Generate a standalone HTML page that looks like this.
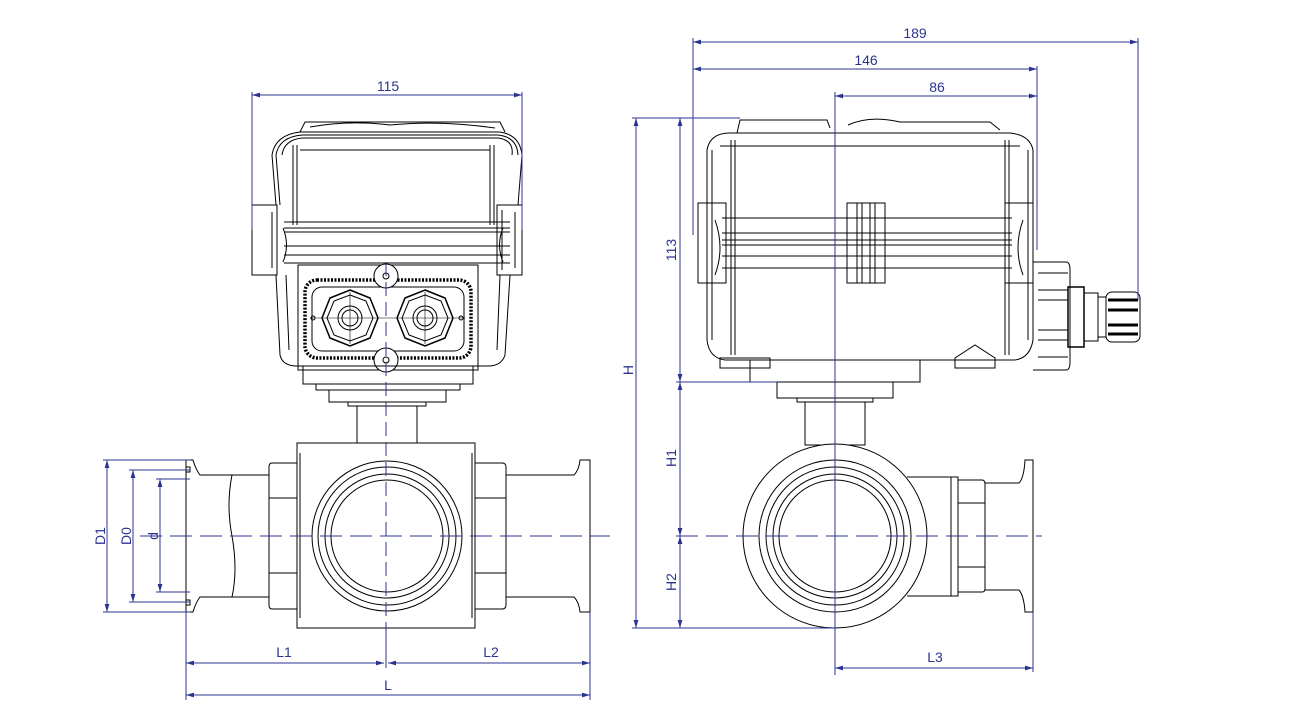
<!DOCTYPE html>
<html><head><meta charset="utf-8"><style>
html,body{margin:0;padding:0;background:#fff;}
svg{display:block;}
text{font-family:"Liberation Sans",sans-serif;font-size:14px;fill:#2b3590;}
</style></head><body>
<svg width="1295" height="727" viewBox="0 0 1295 727" xmlns="http://www.w3.org/2000/svg">
<defs>
<marker id="a" viewBox="0 0 10 6" refX="10" refY="3" markerWidth="8" markerHeight="5" orient="auto-start-reverse"><path d="M0,0L10,3L0,6z" fill="#2b3590"/></marker>
</defs>
<g fill="none" stroke="#000" stroke-width="1">
<!-- LEFT ACTUATOR -->
<path d="M300,132 L305,122 L500,122 L505,132"/>
<path d="M310,127 Q350,120 390,125 Q440,120 495,128"/>
<path d="M272,155 Q275,135 300,132 L500,132 Q520,135 522,155 L518,205"/>
<path d="M276,155 Q279,137 302,135 L498,135 Q517,137 518,155"/>
<path d="M282,155 Q284,140 302,138 L498,138 Q514,140 512,155"/>
<path d="M297,145 L297,225 M490,145 L490,225 M293,145 L293,225 M494,145 L494,225"/>
<path d="M300,150 L490,150"/>
<path d="M272,155 L276,205 M276,155 L280,205"/>
<rect x="252" y="205" width="25" height="70"/>
<rect x="497" y="205" width="25" height="70"/>
<path d="M277,210 L277,270 M272,212 L272,268 M502,210 L502,270 M515,212 L515,268"/>
<path d="M284,222 L510,222 M284,232 L510,232 M284,246 L510,246 M284,255 L510,255 M284,263 L510,263 M284,228 L510,228"/>
<path d="M283,228 Q290,245 283,262 M503,228 Q496,245 503,262"/>
<path d="M276,275 L280,355 Q282,365 295,366 L490,366 Q502,365 505,355 L510,275"/>
<path d="M286,275 L289,350 M500,275 L497,350"/>
<rect x="298" y="265" width="180" height="105"/>
<rect x="305" y="280" width="166" height="78" rx="12" stroke-width="3.5" stroke-dasharray="2,1.5"/>
<rect x="312" y="287" width="152" height="64" rx="10"/>
<circle cx="386" cy="276" r="12" fill="#fff"/><circle cx="386" cy="276" r="3"/>
<circle cx="386" cy="360" r="12" fill="#fff"/><circle cx="386" cy="360" r="3"/>
<polygon points="350,290 370,298 378,318 370,338 350,346 330,338 322,318 330,298" stroke-width="1.5"/>
<polygon points="350,295 366,301 373,318 366,335 350,341 334,335 327,318 334,301"/>
<circle cx="350" cy="318" r="12"/><circle cx="350" cy="318" r="8"/>
<polygon points="425,290 445,298 453,318 445,338 425,346 405,338 397,318 405,298" stroke-width="1.5"/>
<polygon points="425,295 441,301 448,318 441,335 425,341 409,335 402,318 409,301"/>
<circle cx="425" cy="318" r="12"/><circle cx="425" cy="318" r="8"/>
<path d="M310,318 L465,318" stroke-width="0.6"/>
<path d="M350,292 L350,344 M425,292 L425,344" stroke-width="0.6"/>
<circle cx="313" cy="318" r="2"/><circle cx="461" cy="318" r="2"/>
<rect x="303" y="366" width="170" height="18"/>
<rect x="316" y="384" width="144" height="6"/>
<rect x="329" y="390" width="117" height="12"/>
<rect x="348" y="402" width="78" height="4"/>
<!-- LEFT VALVE -->
<rect x="357" y="406" width="60" height="37"/>
<rect x="297" y="443" width="178" height="185"/>
<path d="M300,453 L300,618 M472,453 L472,618"/>
<circle cx="387" cy="536" r="75"/><circle cx="387" cy="536" r="69"/><circle cx="387" cy="536" r="62"/><circle cx="387" cy="536" r="56"/>
<path d="M297,463 L272,463 Q269,463 269,467 L269,605 Q269,609 272,609 L297,609"/>
<path d="M269,498 L297,498 M269,573 L297,573"/>
<path d="M475,463 L502,463 Q506,463 506,467 L506,605 Q506,609 502,609 L475,609"/>
<path d="M475,498 L506,498 M475,573 L506,573"/>
<path d="M269,475 L232,475 M269,597 L232,597"/>
<path d="M232,475 Q226,505 232,536 Q238,570 232,597"/>
<path d="M186,460 L186,612 M186,460 L193,460 Q196,470 200,475 L232,475 M186,612 L193,612 Q196,602 200,597 L232,597"/>
<path d="M506,475 L574,475 Q579,470 580,460 L590,460 L590,612 L580,612 Q579,602 574,597 L506,597"/>
<rect x="186" y="467" width="4" height="5"/><rect x="186" y="600" width="4" height="5"/>
<!-- RIGHT ACTUATOR -->
<path d="M737,133 L740,120 L827,120 L830,128 M848,125 Q870,115 900,122 L990,122 L1000,130"/>
<path d="M707,150 Q710,133 730,133 L1010,133 Q1030,135 1033,150 L1033,340 Q1030,358 1015,360 L725,360 Q709,358 707,340 Z"/>
<path d="M712,150 L712,340 M1028,150 L1028,340 M735,140 L735,355 M1005,140 L1005,355 M731,140 L731,355 M1009,140 L1009,355"/>
<path d="M720,146 L1020,146"/>
<rect x="698" y="203" width="28" height="80"/>
<rect x="1005" y="203" width="28" height="80"/>
<path d="M722,218 L1012,218 M722,233 L1012,233 M722,245 L1012,245 M722,256 L1012,256 M722,268 L1012,268 M722,240 L1012,240"/>
<path d="M715,220 Q725,248 715,275 M1023,220 Q1013,248 1023,275"/>
<rect x="847" y="203" width="38" height="80"/>
<path d="M857,203 L857,283 M875,203 L875,283 M862,203 L862,283 M870,203 L870,283"/>
<rect x="750" y="360" width="170" height="22"/>
<rect x="720" y="358" width="50" height="10"/>
<path d="M955,358 L975,345 L995,358 L995,368 L955,368 Z"/>
<rect x="777" y="382" width="116" height="16"/>
<rect x="797" y="398" width="76" height="4"/>
<!-- connector -->
<path d="M1033,262 L1066,262 Q1070,262 1070,270 L1070,362 Q1070,370 1066,370 L1033,370"/>
<path d="M1038,273 L1068,273 M1038,290 L1068,290 M1038,300 L1068,300 M1038,330 L1068,330 M1038,340 L1068,340 M1038,357 L1068,357"/>
<rect x="1068" y="287" width="16" height="60" stroke-width="1.5"/>
<rect x="1084" y="293" width="14" height="48"/>
<rect x="1098" y="297" width="8" height="40"/>
<rect x="1106" y="292" width="34" height="50" rx="6"/>
<path d="M1108,300 L1138,300 M1108,310 L1138,310 M1108,325 L1138,325 M1108,334 L1138,334" stroke-width="3"/>
<!-- RIGHT VALVE -->
<rect x="805" y="402" width="60" height="43"/>
<circle cx="835" cy="536" r="92" fill="#fff"/>
<circle cx="835" cy="536" r="76"/><circle cx="835" cy="536" r="69"/><circle cx="835" cy="536" r="62"/><circle cx="835" cy="536" r="56"/>
<path d="M907,477 L951,477 L951,596 L907,596"/>
<rect x="951" y="477" width="7" height="119"/>
<path d="M958,480 L982,480 Q985,480 985,484 L985,589 Q985,592 982,592 L958,592 M958,503 L985,503 M958,567 L985,567"/>
<path d="M985,483 L1019,483 Q1024,478 1025,460 L1033,460 L1033,612 L1025,612 Q1024,596 1019,590 L985,590"/>
</g>
<!-- DIMENSIONS -->
<g fill="none" stroke="#2b3590" stroke-width="1">
<path d="M252,92 L252,230 M522,92 L522,230"/>
<path d="M252,95 L522,95" marker-start="url(#a)" marker-end="url(#a)"/>
<path d="M386,262 L386,632" stroke-dasharray="14,6"/>
<path d="M140,536 L610,536" stroke-dasharray="22,8"/>
<path d="M103,460 L190,460 M129,470 L190,470 M156,479 L190,479 M103,612 L190,612 M129,602 L190,602 M156,592 L190,592"/>
<path d="M107,460 L107,612" marker-start="url(#a)" marker-end="url(#a)"/>
<path d="M133,470 L133,602" marker-start="url(#a)" marker-end="url(#a)"/>
<path d="M160,479 L160,592" marker-start="url(#a)" marker-end="url(#a)"/>
<path d="M186,612 L186,700 M590,612 L590,700 M386,632 L386,668"/>
<path d="M186,663 L384,663" marker-start="url(#a)" marker-end="url(#a)"/>
<path d="M388,663 L590,663" marker-start="url(#a)" marker-end="url(#a)"/>
<path d="M186,695 L590,695" marker-start="url(#a)" marker-end="url(#a)"/>
<path d="M693,38 L693,235 M1138,38 L1138,300 M1037,66 L1037,250 M835,92 L835,675"/>
<path d="M693,42 L1138,42" marker-start="url(#a)" marker-end="url(#a)"/>
<path d="M693,69 L1037,69" marker-start="url(#a)" marker-end="url(#a)"/>
<path d="M835,96 L1037,96" marker-start="url(#a)" marker-end="url(#a)"/>
<path d="M632,118 L740,118 M676,382 L777,382 M632,628 L835,628 M1033,612 L1033,672"/>
<path d="M636,118 L636,628" marker-start="url(#a)" marker-end="url(#a)"/>
<path d="M680,118 L680,382" marker-start="url(#a)" marker-end="url(#a)"/>
<path d="M680,382 L680,536" marker-start="url(#a)" marker-end="url(#a)"/>
<path d="M680,536 L680,628" marker-start="url(#a)" marker-end="url(#a)"/>
<path d="M676,536 L1042,536" stroke-dasharray="22,8"/>
<path d="M835,668 L1033,668" marker-start="url(#a)" marker-end="url(#a)"/>
</g>
<text x="388" y="91" text-anchor="middle">115</text>
<text x="915" y="38" text-anchor="middle">189</text>
<text x="866" y="65" text-anchor="middle">146</text>
<text x="937" y="92" text-anchor="middle">86</text>
<text x="284" y="657" text-anchor="middle">L1</text>
<text x="491" y="657" text-anchor="middle">L2</text>
<text x="388" y="690" text-anchor="middle">L</text>
<text x="935" y="662" text-anchor="middle">L3</text>
<text transform="translate(105,536) rotate(-90)" text-anchor="middle">D1</text>
<text transform="translate(131,536) rotate(-90)" text-anchor="middle">D0</text>
<text transform="translate(158,536) rotate(-90)" text-anchor="middle">d</text>
<text transform="translate(633,370) rotate(-90)" text-anchor="middle">H</text>
<text transform="translate(676,250) rotate(-90)" text-anchor="middle">113</text>
<text transform="translate(676,458) rotate(-90)" text-anchor="middle">H1</text>
<text transform="translate(676,582) rotate(-90)" text-anchor="middle">H2</text>
</svg>
</body></html>
